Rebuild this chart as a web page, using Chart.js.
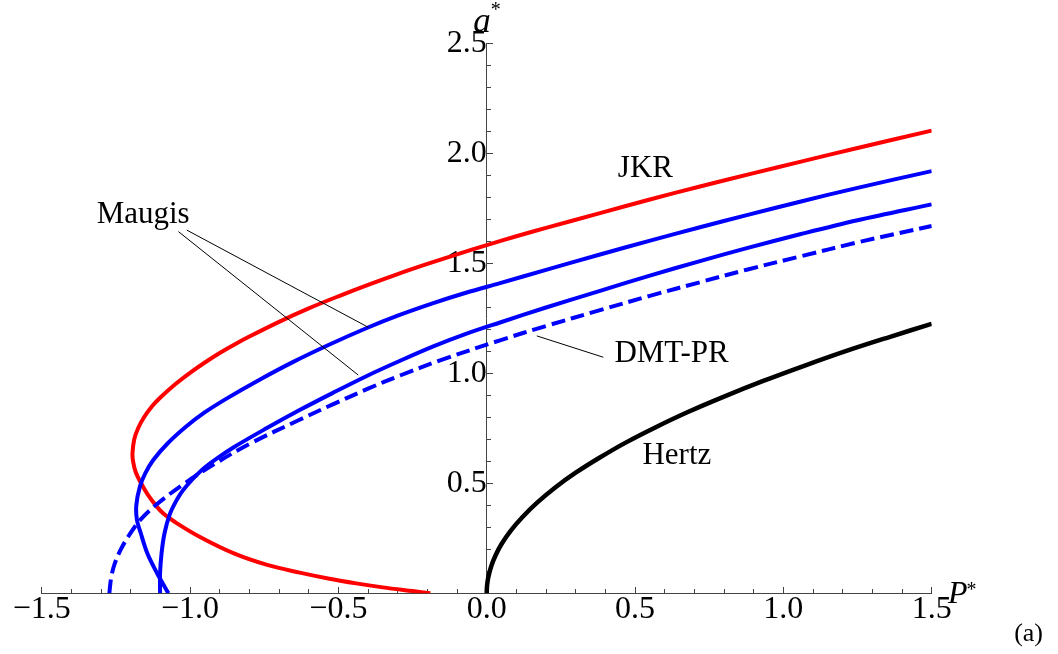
<!DOCTYPE html>
<html>
<head>
<meta charset="utf-8">
<script src="https://cdn.jsdelivr.net/npm/chart.js@4.4.1/dist/chart.umd.min.js"></script>
<style>
html,body{margin:0;padding:0;background:#fff;}
#c{display:block;}
</style>
</head>
<body>
<canvas id="c" width="1058" height="654"></canvas>
<script>
// ---- data (P*, a*) ----
const jkrP = [-0.19,-0.25,-0.35,-0.44,-0.53,-0.63,-0.74,-0.85,-0.968,-1.052,-1.088,-1.112,-1.143,-1.165,-1.183,-1.192,-1.194,-1.188,-1.175,-1.155,-1.128,-1.100,-1.050,-1.000,-0.950,-0.900,-0.850,-0.800,-0.700,-0.600,-0.500,-0.400,-0.300,-0.200,-0.100,0.000,0.100,0.200,0.382,0.550,0.719,0.900,1.056,1.250,1.500];
const jkrA = [0.000,0.010,0.027,0.045,0.066,0.094,0.129,0.180,0.257,0.325,0.360,0.394,0.450,0.500,0.550,0.600,0.636,0.700,0.750,0.800,0.850,0.890,0.950,1.002,1.049,1.092,1.131,1.167,1.234,1.295,1.350,1.402,1.451,1.497,1.541,1.583,1.623,1.661,1.728,1.790,1.849,1.910,1.961,2.024,2.103];

const maugis1P = [-1.073,-1.111,-1.144,-1.166,-1.179,-1.181,-1.169,-1.151,-1.124,-1.075,-1.013,-0.952,-0.877,-0.764,-0.652,-0.528,-0.404,-0.300,-0.180,-0.070,0.045,0.200,0.382,0.551,0.719,0.880,1.056,1.250,1.500];
const maugis1A = [0.000,0.091,0.182,0.273,0.333,0.401,0.485,0.545,0.606,0.682,0.758,0.821,0.885,0.972,1.052,1.132,1.206,1.262,1.319,1.366,1.410,1.470,1.540,1.603,1.664,1.720,1.780,1.843,1.919];

const maugis2P = [-1.101,-1.101,-1.096,-1.086,-1.068,-1.045,-1.023,-0.966,-0.910,-0.854,-0.741,-0.629,-0.520,-0.404,-0.290,-0.180,-0.070,0.045,0.200,0.382,0.550,0.719,0.880,1.056,1.250,1.500];
const maugis2A = [0.000,0.091,0.182,0.273,0.360,0.424,0.470,0.553,0.612,0.663,0.751,0.834,0.910,0.988,1.058,1.122,1.179,1.231,1.299,1.375,1.444,1.510,1.570,1.632,1.696,1.768];

const dmtP = [-1.272,-1.266,-1.255,-1.235,-1.205,-1.170,-1.112,-1.023,-0.921,-0.798,-0.629,-0.517,-0.400,-0.292,-0.150,0.045,0.200,0.382,0.550,0.719,0.880,1.056,1.250,1.500];
const dmtA = [0.000,0.070,0.130,0.195,0.265,0.330,0.405,0.495,0.585,0.680,0.790,0.860,0.930,0.990,1.062,1.150,1.215,1.287,1.352,1.414,1.472,1.531,1.595,1.670];

const hertzP = [0.000,0.001,0.005,0.015,0.030,0.050,0.080,0.120,0.170,0.230,0.300,0.380,0.470,0.570,0.680,0.800,0.930,1.070,1.220,1.360,1.500];
const hertzA = [0.000,0.032,0.071,0.122,0.173,0.224,0.283,0.346,0.412,0.480,0.548,0.616,0.686,0.755,0.825,0.894,0.964,1.034,1.105,1.166,1.225];

// ---- ticks ----
const xMajorTicks = [-1.5,-1.0,-0.5,0.0,0.5,1.0,1.5];
const xMinorTicks = [-1.4,-1.3,-1.2,-1.1,-0.9,-0.8,-0.7,-0.6,-0.4,-0.3,-0.2,-0.1,0.1,0.2,0.3,0.4,0.6,0.7,0.8,0.9,1.1,1.2,1.3,1.4];
const yMajorTicks = [0.5,1.0,1.5,2.0,2.5];
const yMinorTicks = [0.1,0.2,0.3,0.4,0.6,0.7,0.8,0.9,1.1,1.2,1.3,1.4,1.6,1.7,1.8,1.9,2.1,2.2,2.3,2.4];

// ---- annotation texts ----
const curveLabels = ['JKR','Maugis','DMT-PR','Hertz'];

const pts = (P, A) => P.map((p, i) => ({x: p, y: A[i]}));
const fmt = v => (v < 0 ? '\u2212' : '') + Math.abs(v).toFixed(1);
const AX = '#444';
const serif = '"Liberation Serif", "Times New Roman", serif';

function line(label, P, A, color, width, dash) {
  return {
    label, data: pts(P, A), showLine: true, borderColor: color, backgroundColor: color,
    borderWidth: width, borderDash: dash || [], pointRadius: 0, tension: 0.35,
    fill: false, clip: 0, borderCapStyle: 'butt', borderJoinStyle: 'round'
  };
}

const annot = {
  id: 'annot',
  afterDraw(chart) {
    const ctx = chart.ctx, X = chart.scales.x, Y = chart.scales.y;
    const px = v => X.getPixelForValue(v), py = v => Y.getPixelForValue(v);
    ctx.save();
    // pointer lines
    ctx.strokeStyle = '#000'; ctx.lineWidth = 1;
    const seg = (p1, a1, p2, a2) => { ctx.beginPath(); ctx.moveTo(px(p1), py(a1)); ctx.lineTo(px(p2), py(a2)); ctx.stroke(); };
    seg(-1.011, 1.651, -0.399, 1.209);
    seg(-1.039, 1.644, -0.433, 0.992);
    seg(0.169, 1.170, 0.393, 1.073);
    // curve labels
    ctx.fillStyle = '#000';
    ctx.textBaseline = 'alphabetic';
    ctx.textAlign = 'center';
    ctx.font = '31px ' + serif;
    ctx.fillText(curveLabels[0], px(0.535), py(1.892));
    ctx.fillText(curveLabels[1], px(-1.158), py(1.685));
    ctx.fillText(curveLabels[2], px(0.623), py(1.053));
    ctx.fillText(curveLabels[3], px(0.641), py(0.586));
    // axis titles
    ctx.textAlign = 'left';
    ctx.font = 'italic 35px ' + serif;
    let x0 = px(-0.045), y0 = py(2.551);
    ctx.fillText('a', x0, y0);
    let w = ctx.measureText('a').width;
    ctx.font = '20px ' + serif;
    ctx.fillText('*', x0 + w, y0 - 16);
    ctx.font = 'italic 32px ' + serif;
    x0 = px(1.555); y0 = py(-0.044);
    ctx.fillText('P', x0, y0);
    w = ctx.measureText('P').width;
    ctx.font = '20px ' + serif;
    ctx.fillText('*', x0 + w - 1, y0 - 7);
    ctx.font = '26px ' + serif;
    ctx.fillText('(a)', px(1.778), py(-0.217));
    ctx.restore();
  }
};

const majorGrid = {drawOnChartArea: false, drawTicks: true, tickLength: -7, tickColor: AX, tickWidth: 1};
const minorGrid = {drawOnChartArea: false, drawTicks: true, tickLength: -4, tickColor: AX, tickWidth: 1};

new Chart(document.getElementById('c'), {
  type: 'scatter',
  data: {
    datasets: [
      line('Hertz', hertzP, hertzA, '#000000', 4.5),
      line('DMT-PR', dmtP, dmtA, '#0000ff', 4, [14, 6]),
      line('Maugis 2', maugis2P, maugis2A, '#0000ff', 4),
      line('Maugis 1', maugis1P, maugis1A, '#0000ff', 4),
      line('JKR', jkrP, jkrA, '#ff0000', 4)
    ]
  },
  options: {
    responsive: false,
    animation: false,
    layout: {padding: {left: 41.7, right: 126.3, top: 43.3, bottom: 60.7}},
    plugins: {legend: {display: false}, tooltip: {enabled: false}},
    scales: {
      xm: {
        type: 'linear', axis: 'x', min: -1.5, max: 1.5, position: {y: 0},
        afterBuildTicks: s => { s.ticks = xMinorTicks.map(v => ({value: v})); },
        ticks: {display: false}, grid: minorGrid, border: {display: false}
      },
      ym: {
        type: 'linear', axis: 'y', min: 0, max: 2.5, position: {x: 0},
        afterBuildTicks: s => { s.ticks = yMinorTicks.map(v => ({value: v})); },
        ticks: {display: false}, grid: minorGrid, border: {display: false}
      },
      x: {
        type: 'linear', min: -1.5, max: 1.5, position: {y: 0},
        afterBuildTicks: s => { s.ticks = xMajorTicks.map(v => ({value: v})); },
        ticks: {autoSkip: false, maxRotation: 0, padding: 4, color: '#000',
          font: {family: serif, size: 32, lineHeight: 1.2}, callback: v => fmt(v)},
        grid: majorGrid, border: {display: true, color: AX, width: 1}
      },
      y: {
        type: 'linear', min: 0, max: 2.5, position: {x: 0},
        afterBuildTicks: s => { s.ticks = yMajorTicks.map(v => ({value: v})); },
        ticks: {autoSkip: false, padding: 12.5, color: '#000',
          font: {family: serif, size: 32, lineHeight: 1.2}, callback: v => v.toFixed(1)},
        grid: majorGrid, border: {display: true, color: AX, width: 1}
      }
    }
  },
  plugins: [annot]
});
</script>
</body>
</html>
